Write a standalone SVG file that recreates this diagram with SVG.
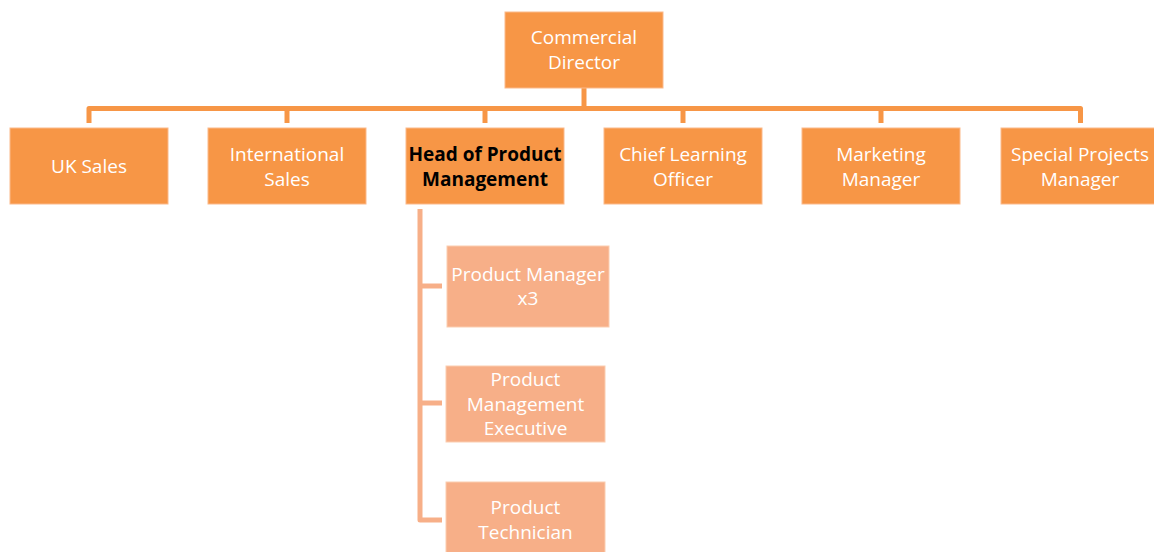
<svg xmlns="http://www.w3.org/2000/svg" width="1154" height="552" viewBox="0 0 1154 552">
<style>
.box{fill:#F79646;stroke:#FBB98A;stroke-width:1}
.sub{fill:#F7AF88;stroke:#FBCDB0;stroke-width:1}
.t{font-family:"Open Sans","Liberation Sans",sans-serif;font-size:19px;fill:#FFFFFF;text-anchor:middle;dominant-baseline:central}
.b{font-weight:bold;fill:#000000}
.c{fill:none;stroke:#F79646;stroke-width:5;stroke-linejoin:round;stroke-linecap:butt}
.cl{fill:none;stroke:#F7AF88;stroke-width:5;stroke-linejoin:round}
</style>
<rect width="1154" height="552" fill="#FFFFFF"/>
<g id="connectors">
<path class="c" d="M584,88 V108.5"/>
<path class="c" d="M89,123 V108.5 H1080.5 V123"/>
<path class="c" d="M287,108.5 V123"/>
<path class="c" d="M485,108.5 V123"/>
<path class="c" d="M683,108.5 V123"/>
<path class="c" d="M881,108.5 V123"/>
<path class="cl" d="M420,209 V520 H442"/>
<path class="cl" d="M420,286 H442"/>
<path class="cl" d="M420,403 H442"/>
</g>
<g id="commercial-director"><rect class="box" x="505" y="12" width="158" height="76"/><text class="t" x="584" y="37">Commercial</text><text class="t" x="584" y="62">Director</text></g>
<g id="uk-sales"><rect class="box" x="10" y="128" width="158" height="76"/><text class="t" x="89" y="166">UK Sales</text></g>
<g id="international-sales"><rect class="box" x="208" y="128" width="158" height="76"/><text class="t" x="287" y="154">International</text><text class="t" x="287" y="179">Sales</text></g>
<g id="head-product"><rect class="box" x="406" y="128" width="158" height="76"/><text class="t b" x="485" y="154">Head of Product</text><text class="t b" x="485" y="179">Management</text></g>
<g id="chief-learning"><rect class="box" x="604" y="128" width="158" height="76"/><text class="t" x="683" y="154">Chief Learning</text><text class="t" x="683" y="179">Officer</text></g>
<g id="marketing-manager"><rect class="box" x="802" y="128" width="158" height="76"/><text class="t" x="881" y="154">Marketing</text><text class="t" x="881" y="179">Manager</text></g>
<g id="special-projects"><rect class="box" x="1001" y="128" width="158" height="76"/><text class="t" x="1080" y="154">Special Projects</text><text class="t" x="1080" y="179">Manager</text></g>
<g id="product-manager"><rect class="sub" x="447" y="246" width="162" height="81"/><text class="t" x="528" y="274">Product Manager</text><text class="t" x="528" y="298">x3</text></g>
<g id="pm-executive"><rect class="sub" x="446" y="366" width="159" height="76"/><text class="t" x="525.5" y="379">Product</text><text class="t" x="525.5" y="404">Management</text><text class="t" x="525.5" y="428">Executive</text></g>
<g id="product-technician"><rect class="sub" x="446" y="482" width="159" height="76"/><text class="t" x="525.5" y="507">Product</text><text class="t" x="525.5" y="532">Technician</text></g>
</svg>
